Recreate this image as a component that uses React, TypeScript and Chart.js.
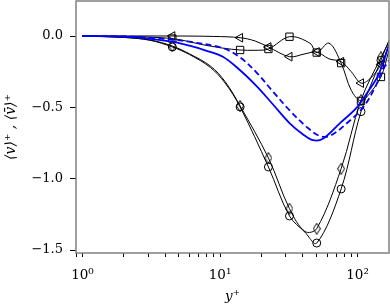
import React, { useEffect, useRef } from 'react';
import { Chart, registerables } from 'chart.js';

Chart.register(...registerables);

// axis ranges and ticks
const xMin = 0.897;
const xMax = 169.4;
const yMin = -1.5207;
const yMax = 0.2453;
const xTickValues = [0.9, 1, 2, 3, 4, 5, 6, 7, 8, 9, 10, 20, 30, 40, 50, 60, 70, 80, 90, 100];
const xLabelValues = [1, 10, 100];
const xTickLabels = ['10⁰', '10¹', '10²'];
const yTickValues = [-1.5, -1.0, -0.5, 0.0];
const yTickLabels = ['−1.5', '−1.0', '−0.5', '0.0'];

// y+ positions where markers are drawn
const markerYPlus = [4.5, 14, 22.5, 32, 50.5, 76, 106, 148];

// black curve, circle markers
const circleYPlus = [1, 2, 3.1, 4.5, 6, 8.5, 10.9, 14, 22.5, 32, 41.5, 50.5, 76, 106, 148, 169.4];
const circleValue = [0, -0.01, -0.03, -0.077, -0.13, -0.22, -0.33, -0.497, -0.918, -1.261, -1.375, -1.451, -1.072, -0.53, -0.17, -0.03];

// black curve, thin diamond markers
const diamondYPlus = [1, 2, 3.1, 4.5, 6, 8.5, 10.9, 14, 22.5, 32, 41.5, 50.5, 76, 106, 148, 169.4];
const diamondValue = [0, -0.01, -0.028, -0.07, -0.125, -0.21, -0.32, -0.49, -0.855, -1.21, -1.37, -1.35, -0.93, -0.45, -0.15, -0.04];

// black curve, square markers
const squareYPlus = [1, 2, 3.1, 4.5, 6, 7.2, 10.5, 14, 18, 22.5, 32, 45, 50.5, 62, 76, 90, 106, 123, 148, 169.4];
const squareValue = [0, -0.003, -0.008, -0.018, -0.04, -0.058, -0.085, -0.098, -0.1, -0.091, -0.005, -0.05, -0.116, -0.05, -0.19, -0.38, -0.455, -0.4, -0.287, -0.1];

// black curve, left-pointing triangle markers
const triangleYPlus = [1, 4.5, 9, 14, 18, 22.5, 32, 41.5, 50.5, 62, 76, 90, 106, 123, 148, 169.4];
const triangleValue = [0, 0, -0.003, -0.012, -0.035, -0.077, -0.145, -0.125, -0.112, -0.16, -0.18, -0.25, -0.33, -0.3, -0.2, -0.06];

// blue solid curve
const blueSolidYPlus = [1, 2, 3.1, 4.5, 6, 7.8, 10.5, 14, 18.6, 24.3, 32, 40.2, 47.4, 56, 74.6, 99, 123, 139, 152, 169.4];
const blueSolidValue = [0, -0.005, -0.02, -0.04, -0.068, -0.1, -0.145, -0.24, -0.355, -0.48, -0.61, -0.69, -0.73, -0.72, -0.61, -0.5, -0.37, -0.29, -0.2, -0.06];

// blue dashed curve
const blueDashedYPlus = [1, 2, 3.1, 4.5, 6, 10.5, 14, 18.6, 24.3, 32, 43, 53, 63, 84, 110, 134, 152, 169.4];
const blueDashedValue = [0, -0.003, -0.012, -0.025, -0.04, -0.085, -0.15, -0.26, -0.39, -0.52, -0.64, -0.7, -0.7, -0.61, -0.5, -0.36, -0.24, -0.17];

const FONT = 'DejaVu Serif';

export default function App() {
  const ref = useRef<HTMLCanvasElement>(null);

  useEffect(() => {
    document.body.style.margin = '0';
    const canvas = ref.current;
    if (!canvas) return;

    const diamond = document.createElement('canvas');
    diamond.width = 8;
    diamond.height = 12;
    const dc = diamond.getContext('2d')!;
    dc.strokeStyle = '#000';
    dc.lineWidth = 1;
    dc.beginPath();
    dc.moveTo(4, 0.5);
    dc.lineTo(7.5, 6);
    dc.lineTo(4, 11.5);
    dc.lineTo(0.5, 6);
    dc.closePath();
    dc.stroke();

    const pts = (xs: number[], ys: number[]) => xs.map((x, i) => ({ x, y: ys[i] }));
    const isMarker = (x: any) => markerYPlus.includes(x);

    const black = (label: string, xs: number[], ys: number[], style: any, r: number, rot = 0) => ({
      label,
      data: pts(xs, ys),
      showLine: true,
      borderColor: '#000',
      borderWidth: 1,
      tension: 0.35,
      pointStyle: style,
      pointRadius: (c: any) => (isMarker(c.raw?.x) ? r : 0),
      pointBorderColor: '#000',
      pointBackgroundColor: 'rgba(0,0,0,0)',
      pointBorderWidth: 1,
      pointRotation: rot,
      fill: false,
    });

    const frame = {
      id: 'frame',
      afterDraw(chart: any) {
        const { ctx, chartArea: a } = chart;
        ctx.save();
        ctx.strokeStyle = '#808080';
        ctx.lineWidth = 1.5;
        ctx.strokeRect(a.left, a.top, a.right - a.left, a.bottom - a.top);
        ctx.restore();
      },
    };

    const chart = new Chart(canvas, {
      type: 'scatter',
      data: {
        datasets: [
          {
            label: 'blue solid',
            data: pts(blueSolidYPlus, blueSolidValue),
            showLine: true,
            borderColor: '#0000ff',
            borderWidth: 1.8,
            tension: 0.35,
            pointRadius: 0,
            fill: false,
          },
          {
            label: 'blue dashed',
            data: pts(blueDashedYPlus, blueDashedValue),
            showLine: true,
            borderColor: '#0000ff',
            borderWidth: 1.8,
            borderDash: [6, 3.5],
            tension: 0.35,
            pointRadius: 0,
            fill: false,
          },
          black('circle', circleYPlus, circleValue, 'circle', 4),
          black('diamond', diamondYPlus, diamondValue, diamond, 5),
          black('square', squareYPlus, squareValue, 'rect', 5.2),
          black('triangle', triangleYPlus, triangleValue, 'triangle', 5, -90),
        ] as any,
      },
      options: {
        responsive: false,
        animation: false,
        events: [],
        layout: { padding: { top: 1, right: 1, left: 0, bottom: 0 } },
        plugins: { legend: { display: false }, tooltip: { enabled: false } },
        scales: {
          x: {
            type: 'logarithmic',
            min: xMin,
            max: xMax,
            afterBuildTicks: (s: any) => {
              s.ticks = xTickValues.map((v) => ({ value: v }));
            },
            afterFit: (s: any) => {
              s.height = 54;
              s.paddingLeft = 0;
              s.paddingRight = 0;
            },
            ticks: {
              autoSkip: false,
              maxRotation: 0,
              minRotation: 0,
              padding: 10,
              color: '#000',
              font: { family: FONT, size: 13.5 },
              callback: (v: any) => {
                const i = xLabelValues.indexOf(Number(v));
                return i >= 0 ? xTickLabels[i] : '';
              },
            },
            grid: { drawOnChartArea: false, drawTicks: true, tickLength: 4, tickColor: '#000', tickWidth: 1 },
            border: { display: false },
            title: {
              display: true,
              text: 'y⁺',
              color: '#000',
              font: { family: FONT, size: 13.5, style: 'italic' },
              padding: { top: 0, bottom: 2 },
            },
          },
          y: {
            type: 'linear',
            min: yMin,
            max: yMax,
            afterBuildTicks: (s: any) => {
              s.ticks = yTickValues.map((v) => ({ value: v }));
            },
            afterFit: (s: any) => {
              s.width = 76;
              s.paddingTop = 0;
              s.paddingBottom = 0;
            },
            ticks: {
              padding: 7,
              color: '#000',
              font: { family: FONT, size: 13 },
              callback: (v: any) => {
                const i = yTickValues.findIndex((t) => Math.abs(t - Number(v)) < 1e-6);
                return i >= 0 ? yTickLabels[i] : '';
              },
            },
            grid: { drawOnChartArea: false, drawTicks: true, tickLength: 6, tickColor: '#000', tickWidth: 1 },
            border: { display: false },
            title: {
              display: true,
              text: '⟨v⟩⁺ , ⟨v̄⟩⁺',
              color: '#000',
              font: { family: FONT, size: 14, style: 'italic' },
              padding: { top: 3, bottom: 0 },
            },
          },
        },
      } as any,
      plugins: [frame],
    });

    return () => chart.destroy();
  }, []);

  return (
    <div style={{ width: 390, height: 307 }}>
      <canvas ref={ref} width={390} height={307} style={{ display: 'block', width: 390, height: 307 }} />
    </div>
  );
}
